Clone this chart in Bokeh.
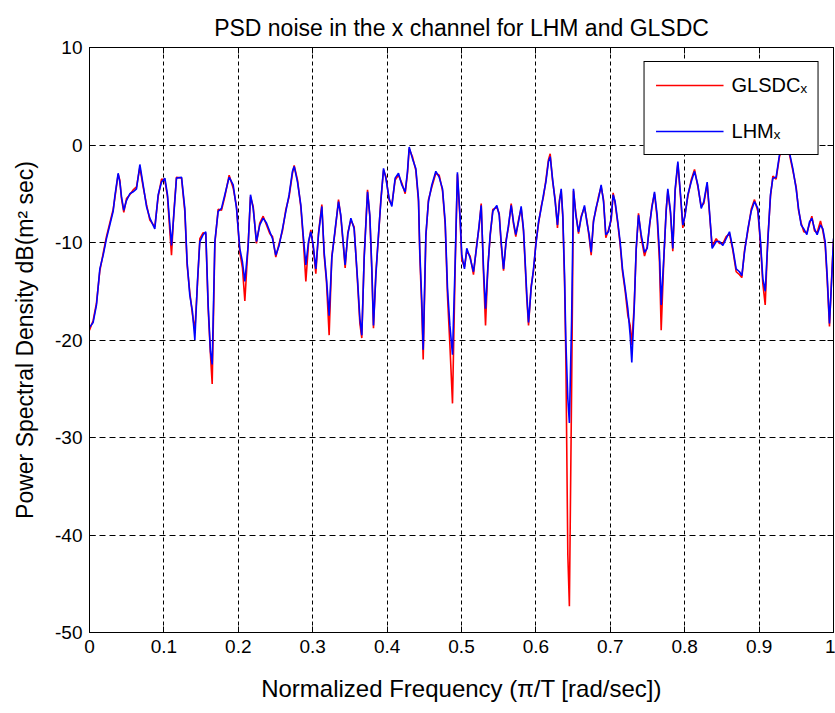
from bokeh.plotting import figure
from bokeh.models import FixedTicker, LinearAxis, Legend, LegendItem, Range1d
from bokeh.embed import file_html
from bokeh.resources import INLINE

# ---------------- data ----------------
freq = [
    0.0, 0.0049, 0.0094, 0.0139, 0.0184, 0.0228, 0.0273, 0.0318, 0.0340, 0.0385,
    0.0408, 0.0430, 0.0461, 0.0497, 0.0542, 0.0587, 0.0632, 0.0677, 0.0721, 0.0766,
    0.0811, 0.0878, 0.0923, 0.0968, 0.1013, 0.1048, 0.1102, 0.1133, 0.1169, 0.1237,
    0.1281, 0.1312, 0.1348, 0.1384, 0.1416, 0.1451, 0.1483, 0.1528, 0.1563, 0.1595,
    0.1626, 0.1649, 0.1685, 0.1729, 0.1774, 0.1819, 0.1877, 0.1931, 0.1976, 0.2020,
    0.2056, 0.2088, 0.2133, 0.2164, 0.2200, 0.2244, 0.2289, 0.2334, 0.2379, 0.2424,
    0.2460, 0.2504, 0.2549, 0.2594, 0.2639, 0.2683, 0.2728, 0.2751, 0.2796, 0.2841,
    0.2872, 0.2908, 0.2944, 0.2975, 0.3007, 0.3042, 0.3078, 0.3123, 0.3154, 0.3185,
    0.3221, 0.3257, 0.3302, 0.3347, 0.3378, 0.3409, 0.3436, 0.3472, 0.3513, 0.3557,
    0.3602, 0.3634, 0.3660, 0.3692, 0.3737, 0.3768, 0.3795, 0.3817, 0.3849, 0.3884,
    0.3916, 0.3952, 0.3983, 0.4028, 0.4064, 0.4108, 0.4153, 0.4198, 0.4243, 0.4274,
    0.4297, 0.4341, 0.4386, 0.4422, 0.4440, 0.4467, 0.4485, 0.4521, 0.4556, 0.4601,
    0.4655, 0.4700, 0.4745, 0.4781, 0.4812, 0.4844, 0.4879, 0.4915, 0.4945, 0.4982,
    0.5004, 0.5040, 0.5071, 0.5116, 0.5161, 0.5206, 0.5237, 0.5265, 0.5296, 0.5323,
    0.5354, 0.5385, 0.5421, 0.5475, 0.5507, 0.5533, 0.5565, 0.5600, 0.5632, 0.5668,
    0.5699, 0.5730, 0.5766, 0.5802, 0.5833, 0.5856, 0.5878, 0.5901, 0.5936, 0.5968,
    0.5999, 0.6035, 0.6071, 0.6102, 0.6134, 0.6169, 0.6192, 0.6223, 0.6259, 0.6290,
    0.6317, 0.6340, 0.6362, 0.6385, 0.6403, 0.6429, 0.6450, 0.6480, 0.6505, 0.6537,
    0.6573, 0.6608, 0.6653, 0.6685, 0.6716, 0.6743, 0.6774, 0.6806, 0.6841, 0.6877,
    0.6909, 0.6940, 0.6976, 0.7012, 0.7038, 0.7065, 0.7101, 0.7132, 0.7164, 0.7200,
    0.7236, 0.7267, 0.7289, 0.7321, 0.7348, 0.7379, 0.7415, 0.7460, 0.7496, 0.7527,
    0.7558, 0.7594, 0.7630, 0.7661, 0.7684, 0.7719, 0.7751, 0.7773, 0.7809, 0.7840,
    0.7872, 0.7908, 0.7944, 0.7975, 0.8006, 0.8042, 0.8087, 0.8132, 0.8177, 0.8222,
    0.8257, 0.8302, 0.8333, 0.8369, 0.8423, 0.8468, 0.8513, 0.8557, 0.8602, 0.8647,
    0.8692, 0.8737, 0.8768, 0.8804, 0.8849, 0.8894, 0.8938, 0.8983, 0.9019, 0.9050,
    0.9082, 0.9117, 0.9153, 0.9185, 0.9229, 0.9274, 0.9319, 0.9364, 0.9409, 0.9453,
    0.9498, 0.9530, 0.9565, 0.9601, 0.9642, 0.9677, 0.9709, 0.9745, 0.9780, 0.9825,
    0.9857, 0.9888, 0.9915, 0.9946, 0.9978, 1.0,
]

lhm = [
    -18.7, -18.2, -16.4, -12.7, -11.3, -9.6, -8.2, -6.8, -5.3, -2.9,
    -3.8, -5.3, -6.7, -5.7, -5.0, -4.8, -4.5, -2.0, -4.1, -6.3,
    -7.5, -8.6, -5.1, -3.8, -3.4, -5.1, -10.3, -7.2, -3.4, -3.3,
    -6.5, -12.0, -15.4, -17.1, -20.0, -14.0, -9.9, -9.2, -8.9, -16.4,
    -21.2, -22.5, -9.9, -6.8, -6.5, -5.1, -3.3, -4.1, -6.5, -10.6,
    -12.0, -14.0, -10.3, -5.1, -6.5, -9.9, -8.2, -7.5, -8.0, -8.9,
    -9.6, -11.3, -10.3, -8.6, -6.8, -5.1, -2.7, -2.2, -3.8, -6.2,
    -9.2, -12.3, -9.9, -8.9, -10.3, -12.7, -9.2, -6.3, -11.0, -13.7,
    -17.5, -11.6, -8.6, -5.8, -7.2, -9.9, -12.3, -9.2, -7.5, -8.6,
    -13.7, -17.8, -19.5, -11.6, -4.8, -7.2, -12.7, -18.5, -13.4, -9.2,
    -5.8, -2.4, -3.4, -5.5, -6.3, -3.4, -2.9, -4.1, -4.8, -2.7,
    -0.2, -1.4, -2.4, -5.5, -11.0, -16.1, -21.0, -9.2, -5.8, -4.1,
    -2.7, -3.3, -4.5, -7.9, -14.7, -18.5, -21.5, -12.0, -2.8, -7.5,
    -11.3, -12.7, -10.6, -11.6, -13.0, -10.3, -8.2, -6.2, -12.7, -16.8,
    -12.7, -9.2, -6.8, -6.2, -7.2, -9.9, -12.7, -9.9, -8.2, -6.2,
    -7.9, -9.2, -7.9, -6.3, -8.6, -12.0, -15.4, -18.2, -14.7, -12.7,
    -10.3, -7.9, -6.5, -5.1, -3.8, -1.7, -1.2, -3.4, -5.8, -8.2,
    -5.8, -4.5, -7.2, -13.4, -20.2, -26.0, -28.5, -18.0, -4.5, -7.2,
    -8.9, -7.5, -6.2, -7.9, -9.2, -11.0, -7.9, -6.5, -5.5, -4.1,
    -5.8, -9.2, -8.9, -7.5, -5.1, -5.8, -7.9, -9.9, -12.7, -14.7,
    -16.8, -19.5, -22.3, -16.8, -10.6, -7.2, -9.2, -11.0, -10.6, -8.2,
    -6.5, -4.8, -7.2, -11.0, -16.4, -11.6, -6.8, -4.5, -6.8, -10.6,
    -4.5, -1.7, -5.1, -8.2, -7.2, -5.1, -3.8, -2.7, -4.1, -6.5,
    -5.8, -3.8, -6.8, -10.6, -9.9, -9.9, -10.3, -9.6, -8.9, -10.6,
    -12.7, -13.0, -13.4, -11.0, -8.6, -6.8, -5.8, -6.5, -9.9, -13.7,
    -15.0, -9.9, -5.1, -3.4, -3.3, -1.0, 0.0, -0.2, -0.8, -2.4,
    -4.5, -6.5, -8.2, -8.6, -9.2, -7.9, -7.5, -8.6, -9.2, -8.2,
    -8.6, -9.9, -13.4, -18.3, -13.4, -9.6,
]

glsdc = [
    -19.0, -18.0, -16.2, -12.9, -11.1, -9.4, -8.0, -6.6, -5.5, -3.0,
    -3.6, -5.5, -6.9, -5.5, -5.1, -4.6, -4.3, -2.3, -4.3, -6.1,
    -7.7, -8.4, -5.3, -3.5, -3.6, -5.3, -11.3, -7.0, -3.3, -3.4,
    -6.8, -12.3, -15.1, -17.4, -19.0, -14.3, -9.6, -9.0, -9.1, -16.8,
    -21.5, -24.5, -10.1, -6.6, -6.7, -5.3, -3.1, -4.4, -6.3, -11.0,
    -12.6, -16.0, -10.1, -5.3, -6.3, -10.1, -8.0, -7.3, -8.2, -9.1,
    -9.4, -11.5, -10.1, -8.8, -6.6, -5.3, -2.9, -2.1, -3.6, -6.4,
    -9.5, -14.0, -10.1, -8.7, -10.5, -13.2, -9.0, -6.1, -11.3, -14.0,
    -19.5, -11.4, -8.8, -5.6, -7.4, -10.1, -12.6, -9.0, -7.7, -8.4,
    -14.0, -18.3, -19.8, -11.4, -4.6, -7.4, -13.0, -18.8, -13.1, -9.4,
    -5.6, -2.6, -3.2, -5.7, -6.1, -3.6, -3.1, -3.9, -5.0, -2.9,
    -0.4, -1.2, -2.6, -5.8, -11.4, -17.0, -22.0, -9.4, -5.6, -4.3,
    -2.9, -3.1, -4.7, -8.2, -15.5, -20.5, -26.5, -12.5, -3.0, -7.8,
    -11.8, -12.5, -10.9, -11.4, -13.3, -10.1, -8.4, -6.0, -13.2, -18.5,
    -12.5, -9.4, -6.6, -6.4, -7.0, -10.2, -12.9, -9.7, -8.4, -6.0,
    -8.1, -9.4, -7.7, -6.5, -8.8, -12.3, -15.8, -18.5, -14.5, -12.9,
    -10.1, -8.1, -6.3, -5.3, -3.6, -1.5, -0.9, -3.6, -5.6, -8.5,
    -5.6, -4.7, -7.5, -14.0, -22.0, -42.0, -47.3, -25.0, -4.7, -7.0,
    -9.1, -7.3, -6.4, -7.7, -9.5, -11.3, -7.7, -6.7, -5.3, -4.3,
    -5.6, -9.5, -8.7, -7.7, -4.9, -6.0, -8.1, -10.2, -13.0, -15.0,
    -17.5, -18.5, -20.5, -16.5, -10.8, -7.0, -9.5, -11.4, -10.4, -8.4,
    -6.3, -5.0, -7.5, -12.0, -19.0, -11.8, -6.6, -4.7, -7.0, -10.9,
    -4.7, -1.9, -5.3, -8.5, -7.0, -5.3, -3.6, -2.5, -4.3, -6.3,
    -6.0, -4.0, -7.0, -10.4, -9.6, -10.1, -10.1, -9.4, -9.1, -10.8,
    -13.0, -13.3, -13.6, -10.8, -8.8, -6.6, -5.6, -6.8, -10.2, -14.2,
    -16.4, -9.6, -5.3, -3.2, -3.5, -1.2, -0.1, -0.3, -1.0, -2.6,
    -4.3, -6.7, -8.0, -8.9, -9.0, -8.1, -7.3, -8.8, -9.0, -7.8,
    -8.8, -10.2, -13.8, -18.6, -13.1, -9.8,
]

x_ticks = [0, 0.1, 0.2, 0.3, 0.4, 0.5, 0.6, 0.7, 0.8, 0.9, 1]
x_tick_labels = ["0", "0.1", "0.2", "0.3", "0.4", "0.5", "0.6", "0.7", "0.8", "0.9", "1"]
y_ticks = [-50, -40, -30, -20, -10, 0, 10]
y_tick_labels = ["-50", "-40", "-30", "-20", "-10", "0", "10"]

title_text = "PSD noise in the x channel for LHM and GLSDC"
x_label = "Normalized Frequency (\u03c0/T [rad/sec])"
y_label = "Power Spectral Density dB(m\u00b2 sec)"
series_labels = ["GLSDC\u2093", "LHM\u2093"]

# ---------------- styling ----------------
FONT = "Liberation Sans"
TXT = "23px"
TICK = "19px"

p = figure(width=835, height=713, output_backend="svg", toolbar_location=None,
           x_range=Range1d(0, 1), y_range=Range1d(-50, 10),
           min_border_left=89, min_border_right=2, min_border_top=47,
           min_border_bottom=81, background_fill_color="white",
           border_fill_color="white")

p.title.text = title_text
p.title.align = "center"
p.title.text_font = FONT
p.title.text_font_size = TXT
p.title.text_font_style = "normal"
p.title.text_color = "black"
p.title.standoff = 13

p.outline_line_color = "black"
p.outline_line_width = 1
p.outline_line_alpha = 1

xt = FixedTicker(ticks=x_ticks)
yt = FixedTicker(ticks=y_ticks)

for ax, tk, labs in ((p.xaxis[0], xt, x_tick_labels), (p.yaxis[0], yt, y_tick_labels)):
    ax.ticker = tk
    ax.major_label_overrides = {t: l for t, l in zip(tk.ticks, labs)}
    ax.major_label_text_font = FONT
    ax.major_label_text_font_size = TICK
    ax.major_label_text_color = "black"
    ax.major_tick_in = 6
    ax.major_tick_out = 0
    ax.minor_tick_line_color = None
    ax.axis_line_color = "black"
    ax.major_tick_line_color = "black"
    ax.axis_label_text_font = FONT
    ax.axis_label_text_font_size = TXT
    ax.axis_label_text_font_style = "normal"
    ax.axis_label_text_color = "black"

p.xaxis[0].axis_label = x_label
p.xaxis[0].axis_label_text_font_size = "24px"
p.yaxis[0].axis_label = y_label
p.xaxis[0].major_label_standoff = 7
p.yaxis[0].major_label_standoff = 7
p.xaxis[0].axis_label_standoff = 19
p.yaxis[0].axis_label_standoff = 14

for side, tk in (("above", xt), ("right", yt)):
    ax = LinearAxis(ticker=tk, major_tick_in=6, major_tick_out=0,
                    minor_tick_line_color=None, major_label_text_color=None,
                    major_label_text_font_size="1px",
                    major_label_standoff=0, axis_line_color="black",
                    major_tick_line_color="black")
    p.add_layout(ax, side)

p.xgrid.ticker = xt
p.ygrid.ticker = yt
p.xgrid.grid_line_color = "black"
p.ygrid.grid_line_color = "black"
p.xgrid.grid_line_dash = "4 3"
p.ygrid.grid_line_dash = "6 4"
p.xgrid.grid_line_width = 1
p.ygrid.grid_line_width = 1

r1 = p.line(freq, glsdc, line_color="#ff0000", line_width=1.6)
r2 = p.line(freq, lhm, line_color="#0000ff", line_width=1.6)

legend = Legend(items=[LegendItem(label=series_labels[0], renderers=[r1]),
                       LegendItem(label=series_labels[1], renderers=[r2])],
                location="top_right", margin=14, padding=11, spacing=22,
                glyph_width=68, glyph_height=24, label_height=24,
                label_standoff=8, label_text_font=FONT, label_text_font_size="20px",
                label_text_color="black", border_line_color="black",
                border_line_width=1, border_line_alpha=1,
                background_fill_color="white", background_fill_alpha=1)
p.add_layout(legend)

open("out.html", "w").write(file_html(p, INLINE))
